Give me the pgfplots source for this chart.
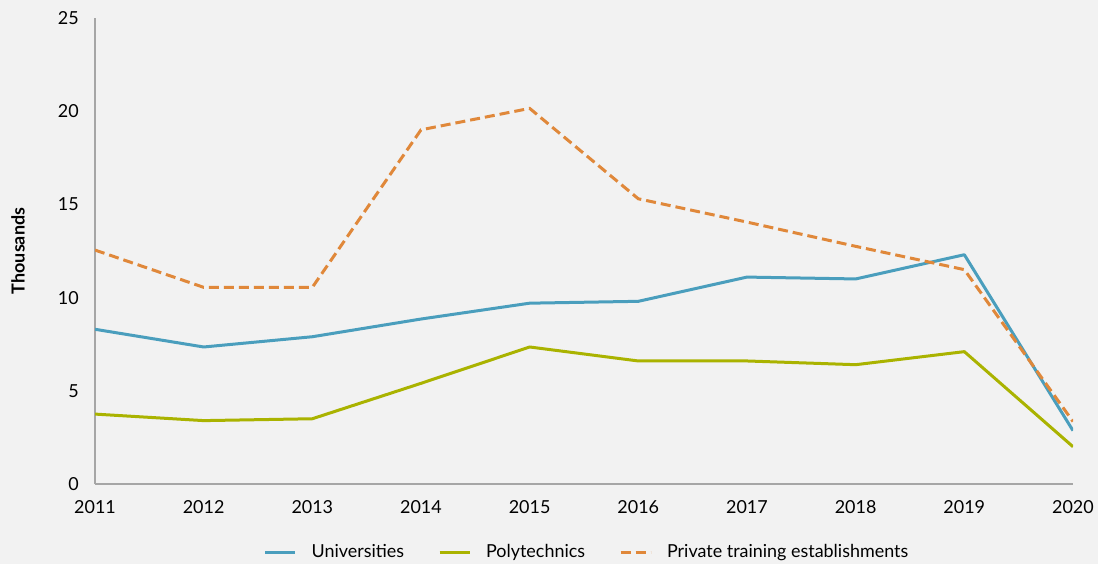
\documentclass[border=0pt]{standalone}
\usepackage{fontspec}
\setmainfont{Lato}
\usepackage{pgfplots}
\pgfplotsset{compat=1.18}
\definecolor{bg}{HTML}{F2F2F2}
\definecolor{uni}{HTML}{4A9EBD}
\definecolor{poly}{HTML}{AAB300}
\definecolor{pte}{HTML}{E0883A}
\definecolor{axc}{HTML}{A6A6A6}
\begin{document}
\begin{tikzpicture}[x=1bp,y=1bp]
\fill[bg] (0,0) rectangle (1098,564);
\begin{axis}[
  at={(95bp,80bp)}, anchor=south west,
  width=978bp, height=466bp, scale only axis,
  xmin=2011, xmax=2020, ymin=0, ymax=25,
  axis x line*=bottom, axis y line*=left,
  axis line style={axc, line width=1.2bp},
  major tick length=0pt,
  xtick={2011,2012,...,2020},
  ytick={0,5,...,25},
  /pgf/number format/assume math mode=true,
  x tick label style={/pgf/number format/1000 sep={}, font=\fontsize{18}{21}\selectfont, inner sep=0pt, anchor=north, yshift=-16bp},
  y tick label style={font=\fontsize{18}{21}\selectfont, inner sep=0pt, anchor=east, xshift=-16bp},
  ylabel={\textbf{Thousands}},
  ylabel style={at={(axis description cs:-0.0787,0.5)}, anchor=center, font=\fontsize{18}{21}\selectfont},
  legend columns=3,
  legend style={at={(0.503,-0.146)}, anchor=center, draw=none, fill=none,
    font=\fontsize{18}{21}\selectfont,
    /tikz/every odd column/.append style={column sep=13bp},
    /tikz/every even column/.append style={column sep=32bp}},
  legend image code/.code={\draw[#1] (0bp,0bp) -- (30bp,0bp);},
]
\addplot[uni, line width=3bp, line join=round] coordinates {
(2011,8.3) (2012,7.35) (2013,7.9) (2014,8.85) (2015,9.7) (2016,9.8) (2017,11.1) (2018,11.0) (2019,12.3) (2020,2.86)};
\addlegendentry{Universities}
\addplot[poly, line width=3bp, line join=round] coordinates {
(2011,3.75) (2012,3.4) (2013,3.5) (2014,5.4) (2015,7.35) (2016,6.6) (2017,6.6) (2018,6.4) (2019,7.1) (2020,2.0)};
\addlegendentry{Polytechnics}
\addplot[pte, line width=3bp, dash pattern=on 10bp off 5bp] coordinates {
(2011,12.55) (2012,10.55) (2013,10.55) (2014,19.0) (2015,20.15) (2016,15.3) (2017,14.05) (2018,12.75) (2019,11.5) (2020,3.35)};
\addlegendentry{Private training establishments}
\end{axis}
\end{tikzpicture}
\end{document}
